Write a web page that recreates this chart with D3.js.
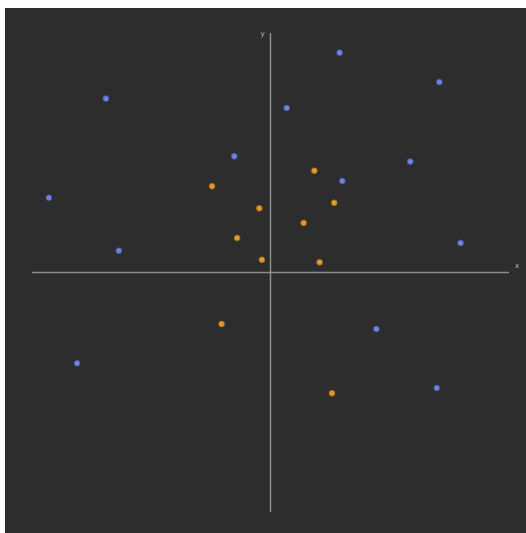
<!DOCTYPE html>
<html lang="en">
<head>
    <meta charset="UTF-8">
    <title>Scatter</title>
    <script src="https://d3js.org/d3.v7.min.js"></script>
    <style>
        body, html {
            margin: 0;
            background-color: #ffffff;
            overflow: hidden;
        }
        #chart {
            position: absolute;
            left: 5px;
            top: 8px;
        }
    </style>
</head>
<body>
<svg id="chart"></svg>

<script>
    // blue points
    const blueX = [2.90, 7.08, -6.90, 0.68, -1.52, 5.86, 3.01, -9.29, 7.97, -6.36, 4.44, -8.11, 6.97];
    const blueY = [9.18, 7.95, 7.26, 6.87, 4.85, 4.63, 3.82, 3.12, 1.23, 0.91, -2.36, -3.79, -4.82];
    // orange points
    const orangeX = [-2.45, 1.84, 2.67, -0.47, 1.39, -1.40, -0.36, 2.06, -2.05, 2.58];
    const orangeY = [3.60, 4.25, 2.91, 2.68, 2.07, 1.44, 0.53, 0.43, -2.15, -5.04];

    const width = 521, height = 525;
    const offX = 5, offY = 8; // svg offset in page

    const svg = d3.select('#chart')
        .attr('width', width)
        .attr('height', height);

    svg.append('rect')
        .attr('width', width)
        .attr('height', height)
        .attr('fill', '#2d2d2d');

    const x = d3.scaleLinear().domain([-10, 10]).range([32 - offX, 509 - offX]);
    const y = d3.scaleLinear().domain([-10, 10]).range([512 - offY, 33 - offY]);

    // axes through origin
    svg.append('line')
        .attr('x1', x(-10)).attr('x2', x(10))
        .attr('y1', y(0)).attr('y2', y(0))
        .attr('stroke', '#8c8c8c')
        .attr('stroke-width', 1.5);

    svg.append('line')
        .attr('x1', x(0)).attr('x2', x(0))
        .attr('y1', y(-10)).attr('y2', y(10))
        .attr('stroke', '#8c8c8c')
        .attr('stroke-width', 1.5);

    svg.append('text')
        .attr('x', x(10) + 6)
        .attr('y', y(0) - 5)
        .attr('fill', '#bbbbbb')
        .attr('font-family', 'DejaVu Sans, sans-serif')
        .attr('font-size', 7)
        .text('x');

    svg.append('text')
        .attr('x', x(0) - 10)
        .attr('y', y(10) + 3)
        .attr('fill', '#bbbbbb')
        .attr('font-family', 'DejaVu Sans, sans-serif')
        .attr('font-size', 7)
        .text('y');

    const blue = blueX.map((d, i) => [d, blueY[i]]);
    const orange = orangeX.map((d, i) => [d, orangeY[i]]);

    svg.append('g').selectAll('circle')
        .data(blue)
        .join('circle')
        .attr('cx', d => x(d[0]))
        .attr('cy', d => y(d[1]))
        .attr('r', 3)
        .attr('fill', '#6b84e6')
        .attr('stroke', '#3f4d80')
        .attr('stroke-width', 0.8);

    svg.append('g').selectAll('circle')
        .data(orange)
        .join('circle')
        .attr('cx', d => x(d[0]))
        .attr('cy', d => y(d[1]))
        .attr('r', 3)
        .attr('fill', '#e39a2c')
        .attr('stroke', '#8a5a1c')
        .attr('stroke-width', 0.8);
</script>
</body>
</html>
